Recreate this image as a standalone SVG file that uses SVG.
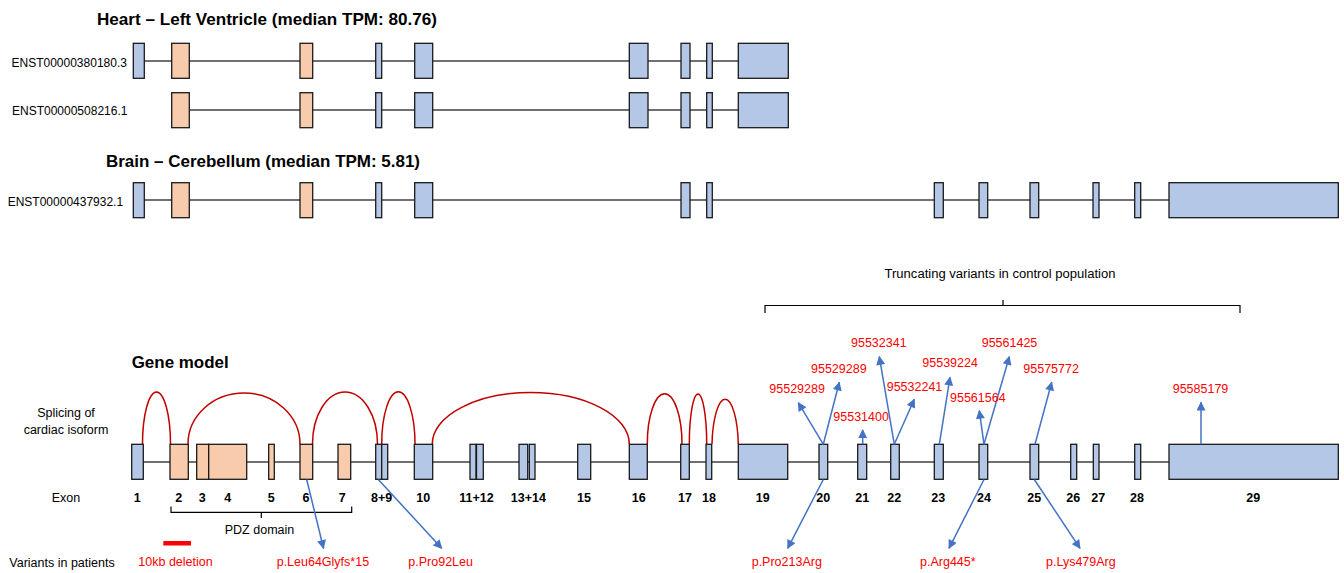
<svg xmlns="http://www.w3.org/2000/svg" width="1344" height="573" viewBox="0 0 1344 573">
<style>
text{font-family:"Liberation Sans",Arial,sans-serif}
.title{font-size:17px;font-weight:bold;fill:#000}
.tx{font-size:12px;fill:#000}
.lab{font-size:12.5px;fill:#000}
.num{font-size:12.5px;font-weight:bold;fill:#000;text-anchor:middle}
.red{font-size:12.5px;fill:#FF0000}
.b{fill:#B4C7E7;stroke:#1a1a1a;stroke-width:1.3}
.o{fill:#F8CBAD;stroke:#1a1a1a;stroke-width:1.3}
.intron{stroke:#404040;stroke-width:1.6;fill:none}
.arc{stroke:#C00000;stroke-width:1.5;fill:none}
.arr{stroke:#4472C4;stroke-width:1.5;fill:none;marker-end:url(#ah)}
.brace{stroke:#000;stroke-width:1.2;fill:none}
</style>
<defs>
<marker id="ah" viewBox="0 0 10 10" refX="9" refY="5" markerWidth="10" markerHeight="9" markerUnits="userSpaceOnUse" orient="auto">
<path d="M0,0 L10,5 L0,10 z" fill="#4472C4"/>
</marker>
</defs>
<rect width="1344" height="573" fill="#fff"/>

<text class="title" x="97" y="25" textLength="340" lengthAdjust="spacingAndGlyphs">Heart – Left Ventricle (median TPM: 80.76)</text>
<text class="title" x="106" y="166.5" textLength="314" lengthAdjust="spacingAndGlyphs">Brain – Cerebellum (median TPM: 5.81)</text>

<g id="tx-ENST00000380180">
<text class="tx" x="11.5" y="66.5">ENST00000380180.3</text>
<line class="intron" x1="144" y1="61" x2="738" y2="61"/>
<rect class="b" x="133.3" y="43.3" width="11" height="35"/>
<rect class="o" x="171.7" y="43.3" width="17.6" height="35"/>
<rect class="o" x="300" y="43.3" width="12.7" height="35"/>
<rect class="b" x="375.7" y="43.3" width="6" height="35"/>
<rect class="b" x="414.7" y="43.3" width="18" height="35"/>
<rect class="b" x="629.3" y="43.3" width="18.7" height="35"/>
<rect class="b" x="681" y="43.3" width="9" height="35"/>
<rect class="b" x="706.7" y="43.3" width="5.6" height="35"/>
<rect class="b" x="738.3" y="43.3" width="50" height="35"/>
</g>

<g id="tx-ENST00000508216">
<text class="tx" x="12" y="115">ENST00000508216.1</text>
<line class="intron" x1="189" y1="110" x2="738" y2="110"/>
<rect class="o" x="171.7" y="92.7" width="17.6" height="35"/>
<rect class="o" x="300" y="92.7" width="12.7" height="35"/>
<rect class="b" x="375.7" y="92.7" width="6" height="35"/>
<rect class="b" x="414.7" y="92.7" width="18" height="35"/>
<rect class="b" x="629.3" y="92.7" width="18.7" height="35"/>
<rect class="b" x="681" y="92.7" width="9" height="35"/>
<rect class="b" x="706.7" y="92.7" width="5.6" height="35"/>
<rect class="b" x="738.3" y="92.7" width="50" height="35"/>
</g>

<g id="tx-ENST00000437932">
<text class="tx" x="7.7" y="205.5">ENST00000437932.1</text>
<line class="intron" x1="144" y1="200" x2="1169" y2="200"/>
<rect class="b" x="133.3" y="182.7" width="11" height="35"/>
<rect class="o" x="171.7" y="182.7" width="17.6" height="35"/>
<rect class="o" x="300" y="182.7" width="12.7" height="35"/>
<rect class="b" x="375.7" y="182.7" width="6" height="35"/>
<rect class="b" x="414.7" y="182.7" width="18" height="35"/>
<rect class="b" x="681" y="182.7" width="9" height="35"/>
<rect class="b" x="706.7" y="182.7" width="5.6" height="35"/>
<rect class="b" x="934.3" y="182.7" width="9" height="35"/>
<rect class="b" x="979" y="182.7" width="8.7" height="35"/>
<rect class="b" x="1030" y="182.7" width="8.7" height="35"/>
<rect class="b" x="1093" y="182.7" width="6" height="35"/>
<rect class="b" x="1134.7" y="182.7" width="6" height="35"/>
<rect class="b" x="1169" y="182.7" width="169.3" height="35"/>
</g>

<g id="control-label">
<text class="tx" x="884.5" y="278" textLength="231" lengthAdjust="spacingAndGlyphs">Truncating variants in control population</text>
<path class="brace" d="M765,313 V305.5 H1240 V313 M1003,305.5 V300"/>
</g>

<g id="row-labels">
<text class="title" x="131.7" y="368" textLength="97" lengthAdjust="spacingAndGlyphs">Gene model</text>
<text class="lab" x="66" y="416.5" text-anchor="middle">Splicing of</text>
<text class="lab" x="66" y="433.5" text-anchor="middle">cardiac isoform</text>
<text class="lab" x="51.7" y="501.5">Exon</text>
<text class="lab" x="9.3" y="566.5">Variants in patients</text>
</g>

<g id="splicing-arcs">
<path class="arc" d="M142.5,444 A14,52 0 0 1 170.5,444"/>
<path class="arc" d="M188,444 A56,51 0 0 1 300,444"/>
<path class="arc" d="M312.5,444 A32.5,52 0 0 1 377.5,444"/>
<path class="arc" d="M381.7,444 A16.6,52 0 0 1 415,444"/>
<path class="arc" d="M432.3,444 A98.5,51.5 0 0 1 629.3,444"/>
<path class="arc" d="M647.3,444 A17.3,50 0 0 1 682,444"/>
<path class="arc" d="M689.3,444 A8.7,50 0 0 1 706.7,444"/>
<path class="arc" d="M712,444 A13.2,49 0 0 1 738.3,444"/>
</g>

<g id="gene-model">
<line class="intron" x1="143" y1="462" x2="1169" y2="462"/>
<g id="exon1"><rect class="b" x="131.7" y="444.3" width="11.6" height="35"/></g>
<g id="exon2"><rect class="o" x="170" y="444.3" width="18.3" height="35"/></g>
<g id="exon3"><rect class="o" x="196.7" y="444.3" width="12" height="35"/></g>
<g id="exon4"><rect class="o" x="208.7" y="444.3" width="38" height="35"/></g>
<g id="exon5"><rect class="o" x="268.7" y="444.3" width="5.6" height="35"/></g>
<g id="exon6"><rect class="o" x="300" y="444.3" width="12.7" height="35"/></g>
<g id="exon7"><rect class="o" x="338" y="444.3" width="12.7" height="35"/></g>
<g id="exon8"><rect class="b" x="375.7" y="444.3" width="6" height="35"/></g>
<g id="exon9"><rect class="b" x="381.7" y="444.3" width="6" height="35"/></g>
<g id="exon10"><rect class="b" x="414.3" y="444.3" width="18.4" height="35"/></g>
<g id="exon11"><rect class="b" x="470" y="444.3" width="6" height="35"/></g>
<g id="exon12"><rect class="b" x="476.5" y="444.3" width="6.8" height="35"/></g>
<g id="exon13"><rect class="b" x="519" y="444.3" width="8.7" height="35"/></g>
<g id="exon14"><rect class="b" x="529.3" y="444.3" width="5.7" height="35"/></g>
<g id="exon15"><rect class="b" x="577.7" y="444.3" width="13" height="35"/></g>
<g id="exon16"><rect class="b" x="629.3" y="444.3" width="18" height="35"/></g>
<g id="exon17"><rect class="b" x="680.7" y="444.3" width="8.6" height="35"/></g>
<g id="exon18"><rect class="b" x="706" y="444.3" width="5.7" height="35"/></g>
<g id="exon19"><rect class="b" x="738.3" y="444.3" width="49.4" height="35"/></g>
<g id="exon20"><rect class="b" x="819" y="444.3" width="8.7" height="35"/></g>
<g id="exon21"><rect class="b" x="857.7" y="444.3" width="9" height="35"/></g>
<g id="exon22"><rect class="b" x="890.7" y="444.3" width="8.6" height="35"/></g>
<g id="exon23"><rect class="b" x="934.3" y="444.3" width="9" height="35"/></g>
<g id="exon24"><rect class="b" x="979" y="444.3" width="8.7" height="35"/></g>
<g id="exon25"><rect class="b" x="1030" y="444.3" width="8.7" height="35"/></g>
<g id="exon26"><rect class="b" x="1070.7" y="444.3" width="6" height="35"/></g>
<g id="exon27"><rect class="b" x="1093.3" y="444.3" width="5.7" height="35"/></g>
<g id="exon28"><rect class="b" x="1134.7" y="444.3" width="6" height="35"/></g>
<g id="exon29"><rect class="b" x="1169" y="444.3" width="169.3" height="35"/></g>
</g>

<g id="exon-numbers">
<text class="num" x="137.3" y="501.5">1</text>
<text class="num" x="178.7" y="501.5">2</text>
<text class="num" x="202.3" y="501.5">3</text>
<text class="num" x="227.7" y="501.5">4</text>
<text class="num" x="271.3" y="501.5">5</text>
<text class="num" x="306" y="501.5">6</text>
<text class="num" x="342.3" y="501.5">7</text>
<text class="num" x="381.7" y="501.5">8+9</text>
<text class="num" x="423.3" y="501.5">10</text>
<text class="num" x="476.5" y="501.5">11+12</text>
<text class="num" x="528.3" y="501.5">13+14</text>
<text class="num" x="584" y="501.5">15</text>
<text class="num" x="638.7" y="501.5">16</text>
<text class="num" x="685" y="501.5">17</text>
<text class="num" x="709" y="501.5">18</text>
<text class="num" x="762.7" y="501.5">19</text>
<text class="num" x="823.3" y="501.5">20</text>
<text class="num" x="862.3" y="501.5">21</text>
<text class="num" x="894.3" y="501.5">22</text>
<text class="num" x="938.3" y="501.5">23</text>
<text class="num" x="984" y="501.5">24</text>
<text class="num" x="1034.3" y="501.5">25</text>
<text class="num" x="1073.3" y="501.5">26</text>
<text class="num" x="1098.3" y="501.5">27</text>
<text class="num" x="1137" y="501.5">28</text>
<text class="num" x="1253.3" y="501.5">29</text>
</g>

<g id="pdz-domain">
<path class="brace" d="M171,506.5 V512.3 H351.7 V506.5 M261.3,512.3 V518"/>
<text class="lab" x="259.5" y="534.3" text-anchor="middle">PDZ domain</text>
</g>

<g id="deletion">
<rect x="163.3" y="541" width="27.7" height="4.5" fill="#FF0000"/>
<text class="red" x="138.3" y="566.3">10kb deletion</text>
</g>

<g id="connectors">
<line class="arr" x1="306.7" y1="479.5" x2="323.5" y2="548.3"/>
<line class="arr" x1="378.3" y1="479.5" x2="441.7" y2="548.3"/>
<line class="arr" x1="823.3" y1="479.5" x2="787.7" y2="548.3"/>
<line class="arr" x1="984" y1="479.5" x2="949" y2="548.3"/>
<line class="arr" x1="1034.3" y1="479.5" x2="1080" y2="548.3"/>
<line class="arr" x1="823.3" y1="444.3" x2="798.3" y2="402.7"/>
<line class="arr" x1="823.3" y1="444.3" x2="839.3" y2="382.3"/>
<line class="arr" x1="862.7" y1="444.3" x2="862.7" y2="430"/>
<line class="arr" x1="894.3" y1="444.3" x2="879.3" y2="356.7"/>
<line class="arr" x1="894.3" y1="444.3" x2="914.3" y2="399.3"/>
<line class="arr" x1="939.3" y1="444.3" x2="950" y2="377.3"/>
<line class="arr" x1="984" y1="444.3" x2="979.3" y2="410.7"/>
<line class="arr" x1="984" y1="444.3" x2="1009.3" y2="356.7"/>
<line class="arr" x1="1035" y1="444.3" x2="1051.7" y2="382.3"/>
<line class="arr" x1="1201" y1="444.3" x2="1201" y2="402.3"/>
</g>

<g id="variant-labels">
<text class="red" x="276.7" y="566.3">p.Leu64Glyfs*15</text>
<text class="red" x="408.3" y="566.3">p.Pro92Leu</text>
<text class="red" x="751.7" y="566.3">p.Pro213Arg</text>
<text class="red" x="920" y="566.3">p.Arg445*</text>
<text class="red" x="1046" y="566.3">p.Lys479Arg</text>
<text class="red" x="769.3" y="392.7">95529289</text>
<text class="red" x="811" y="372.7">95529289</text>
<text class="red" x="833.3" y="420.7">95531400</text>
<text class="red" x="851" y="346.7">95532341</text>
<text class="red" x="886.7" y="390.7">95532241</text>
<text class="red" x="922.3" y="367.3">95539224</text>
<text class="red" x="950" y="401.7">95561564</text>
<text class="red" x="981.7" y="347.3">95561425</text>
<text class="red" x="1023.3" y="372.7">95575772</text>
<text class="red" x="1172.7" y="392.7">95585179</text>
</g>
</svg>
